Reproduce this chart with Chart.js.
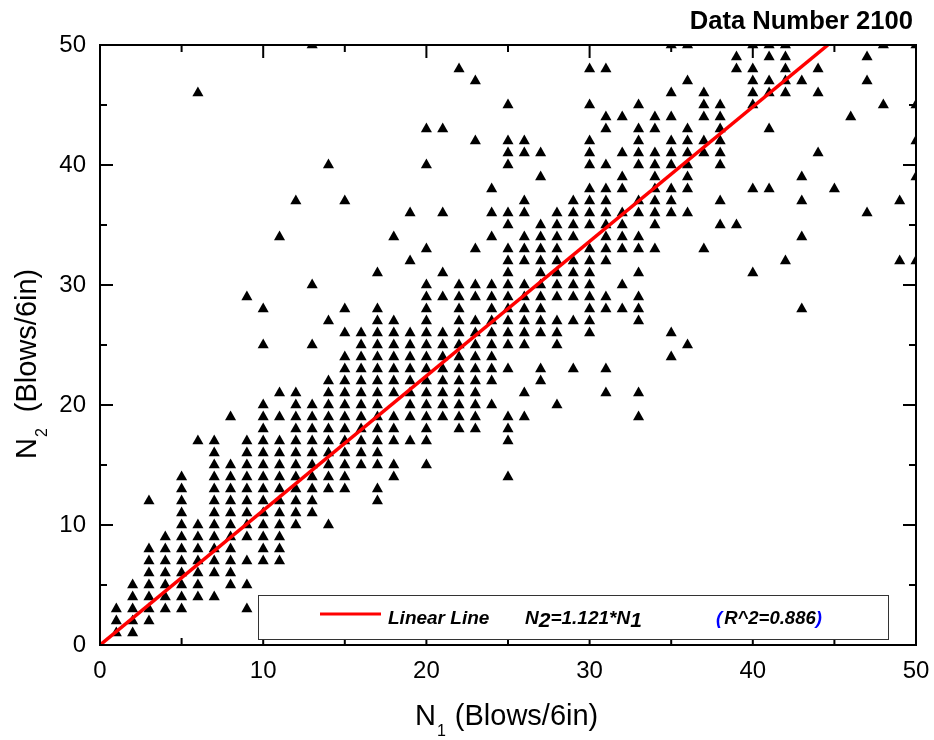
<!DOCTYPE html>
<html>
<head>
<meta charset="utf-8">
<title>Data Number 2100</title>
<style>
  html, body { margin: 0; padding: 0; background: #fff; }
  canvas { display: block; }
</style>
<script src="https://cdn.jsdelivr.net/npm/chart.js@4/dist/chart.umd.min.js"></script>
</head>
<body>
<canvas id="chart" width="934" height="740"></canvas>
<script>
'use strict';

// N2 levels and, aligned with them, the N1 values that have a point at that level
const n2Levels = [
  1, 2, 3, 4, 5, 6, 7, 8, 9, 10,
  11, 12, 13, 14, 15, 16, 17, 18, 19, 20,
  21, 22, 23, 24, 25, 26, 27, 28, 29, 30,
  31, 32, 33, 34, 35, 36, 37, 38, 39, 40,
  41, 42, 43, 44, 45, 46, 47, 48, 49, 50
];
const n1AtLevel = [
  [1, 2],
  [1, 2, 3],
  [1, 2, 3, 4, 5, 9],
  [2, 3, 4, 5, 6, 7],
  [2, 3, 4, 5, 6, 8, 9],
  [3, 4, 5, 6, 7, 8],
  [3, 4, 5, 6, 7, 8, 9, 10, 11],
  [3, 4, 5, 6, 7, 8, 10, 11],
  [4, 5, 6, 7, 8, 9, 10, 11],
  [5, 6, 7, 8, 9, 10, 11, 12, 14],
  [5, 7, 8, 9, 10, 11, 12, 13],
  [3, 5, 7, 8, 9, 10, 11, 12, 13, 17],
  [5, 7, 8, 9, 10, 11, 12, 13, 14, 15, 17],
  [5, 7, 8, 9, 10, 11, 12, 13, 14, 15, 18, 25],
  [7, 8, 9, 10, 11, 12, 13, 14, 15, 16, 17, 18, 20],
  [7, 9, 10, 11, 12, 13, 14, 15, 16, 17],
  [6, 7, 9, 10, 11, 12, 13, 14, 15, 16, 17, 18, 19, 20, 25],
  [10, 12, 13, 14, 15, 16, 17, 18, 20, 22, 23, 25],
  [8, 10, 11, 12, 13, 14, 15, 16, 17, 18, 19, 20, 21, 22, 23, 25, 26, 33],
  [10, 12, 13, 14, 15, 16, 17, 19, 20, 21, 22, 23, 24, 28],
  [11, 12, 14, 15, 16, 17, 18, 19, 20, 21, 22, 23, 26, 31, 33],
  [14, 15, 16, 17, 18, 19, 20, 21, 22, 23, 24, 27],
  [15, 16, 17, 18, 19, 20, 21, 22, 23, 24, 25, 27, 29, 31],
  [15, 16, 17, 18, 19, 20, 21, 22, 23, 24, 35],
  [10, 13, 16, 17, 18, 19, 20, 21, 22, 23, 24, 25, 26, 28, 36],
  [15, 16, 17, 18, 19, 20, 21, 22, 23, 24, 25, 26, 27, 28, 30, 35],
  [14, 17, 18, 20, 22, 23, 24, 25, 26, 27, 28, 29, 30, 33],
  [10, 15, 17, 20, 22, 24, 25, 26, 27, 30, 31, 32, 33, 43],
  [9, 20, 21, 22, 23, 24, 25, 26, 27, 28, 29, 30, 31, 33],
  [13, 20, 22, 23, 24, 25, 26, 27, 28, 29, 30, 32],
  [17, 21, 25, 27, 28, 29, 30, 33, 40],
  [19, 25, 26, 27, 28, 29, 30, 31, 42, 49, 50],
  [20, 23, 25, 26, 27, 28, 30, 31, 32, 33, 34, 37],
  [11, 18, 24, 26, 27, 28, 29, 31, 32, 33, 43],
  [25, 27, 28, 29, 30, 31, 32, 34, 38, 39],
  [19, 21, 24, 25, 26, 28, 29, 30, 31, 32, 33, 34, 35, 36, 47],
  [12, 15, 26, 29, 30, 31, 33, 34, 35, 38, 43, 49],
  [24, 30, 31, 32, 34, 35, 36, 40, 41, 45],
  [27, 32, 34, 36, 43, 50],
  [14, 20, 25, 30, 31, 33, 34, 35, 36, 38],
  [25, 26, 27, 30, 32, 33, 34, 35, 36, 37, 38, 44],
  [23, 25, 26, 30, 33, 35, 36, 37, 38, 50],
  [20, 21, 31, 33, 34, 36, 38, 41],
  [31, 32, 34, 35, 37, 38, 46],
  [25, 30, 33, 37, 38, 40, 48, 50],
  [6, 35, 37, 40, 41, 42, 44],
  [23, 36, 40, 41, 42, 43, 47],
  [22, 30, 31, 39, 40, 42, 44],
  [39, 41, 42, 47],
  [13, 35, 36, 40, 41, 42, 48, 50]
];

// fitted line N2 = 1.121 * N1, ends at the top of the frame
const fitN1 = [0, 44.6];
const fitN2 = [0, 50];

const axisMin = 0;
const axisMax = 50;
const tickStep = 5;
const labelStep = 10;

const FONT = '"Liberation Sans", Arial, sans-serif';

const points = n2Levels.flatMap((level, i) =>
  n1AtLevel[i].map(n1 => ({ x: n1, y: level }))
);
const fitLine = fitN1.map((x, i) => ({ x: x, y: fitN2[i] }));

// Write a row of text pieces, a piece can be dropped as a subscript
function drawRuns(ctx, runs, x, y) {
  runs.forEach(function (run) {
    ctx.font = run.font;
    ctx.fillStyle = run.color || '#000';
    ctx.fillText(run.text, x, y + (run.drop || 0));
    x += ctx.measureText(run.text).width + (run.gap || 0);
  });
}

// Origin style frame: ticks point inwards on all four sides
const frameTicks = {
  id: 'frameTicks',
  afterDatasetsDraw(chart) {
    const { ctx, chartArea: area, scales } = chart;
    ctx.save();
    ctx.strokeStyle = '#000';
    ctx.lineWidth = 2;
    ctx.strokeRect(area.left, area.top, area.right - area.left, area.bottom - area.top);
    for (let v = axisMin; v <= axisMax; v += tickStep) {
      const len = v % labelStep === 0 ? 13 : 7;
      const px = scales.x.getPixelForValue(v);
      const py = scales.y.getPixelForValue(v);
      ctx.beginPath();
      ctx.moveTo(px, area.bottom);
      ctx.lineTo(px, area.bottom - len);
      ctx.moveTo(px, area.top);
      ctx.lineTo(px, area.top + len);
      ctx.moveTo(area.left, py);
      ctx.lineTo(area.left + len, py);
      ctx.moveTo(area.right, py);
      ctx.lineTo(area.right - len, py);
      ctx.stroke();
    }
    ctx.restore();
  },
  afterDraw(chart) {
    const ctx = chart.ctx;
    const big = '29px ' + FONT;
    const small = '16px ' + FONT;
    const note = 'italic bold 19px ' + FONT;
    const noteSub = 'italic bold 21px ' + FONT;
    const noteR = 'italic bold 18.5px ' + FONT;
    ctx.save();
    ctx.textBaseline = 'alphabetic';
    ctx.textAlign = 'left';

    // chart title
    ctx.font = 'bold 25.6px ' + FONT;
    ctx.fillStyle = '#000';
    ctx.textAlign = 'right';
    ctx.fillText('Data Number 2100', 913, 29);
    ctx.textAlign = 'left';

    // axis titles
    drawRuns(ctx, [
      { text: 'N', font: big, gap: 1 },
      { text: '1', font: small, drop: 11, gap: 9 },
      { text: '(Blows/6in)', font: big }
    ], 415, 725);
    ctx.save();
    ctx.translate(36, 459);
    ctx.rotate(-Math.PI / 2);
    drawRuns(ctx, [
      { text: 'N', font: big, gap: 1 },
      { text: '2', font: small, drop: 11, gap: 16 },
      { text: '(Blows/6in)', font: big }
    ], 0, 0);
    ctx.restore();

    // legend box
    ctx.fillStyle = '#fff';
    ctx.fillRect(258, 595, 631, 45);
    ctx.strokeStyle = '#333';
    ctx.lineWidth = 1;
    ctx.strokeRect(258.5, 595.5, 630, 44);
    ctx.strokeStyle = '#f00';
    ctx.lineWidth = 3;
    ctx.beginPath();
    ctx.moveTo(320, 614);
    ctx.lineTo(381, 614);
    ctx.stroke();
    drawRuns(ctx, [{ text: 'Linear Line', font: note }], 388, 624);
    drawRuns(ctx, [
      { text: 'N', font: note },
      { text: '2', font: noteSub, drop: 3 },
      { text: '=1.121*N', font: note },
      { text: '1', font: noteSub, drop: 3 }
    ], 525, 624);
    drawRuns(ctx, [
      { text: '(', font: noteR, color: '#00f', gap: 2 },
      { text: 'R^2=0.886', font: noteR },
      { text: ')', font: noteR, color: '#00f' }
    ], 716, 624);
    ctx.restore();
  }
};

const ctx = document.getElementById('chart').getContext('2d');
new Chart(ctx, {
  type: 'scatter',
  data: {
    datasets: [
      {
        label: 'Linear Line',
        data: fitLine,
        showLine: true,
        borderColor: '#f00',
        borderWidth: 3.5,
        pointRadius: 0
      },
      {
        label: 'N2',
        data: points,
        pointStyle: 'triangle',
        pointRadius: 6.4,
        pointBorderWidth: 0,
        pointBackgroundColor: '#000'
      }
    ]
  },
  options: {
    responsive: false,
    animation: false,
    layout: { padding: { left: 0, right: 18, top: 45, bottom: 0 } },
    plugins: {
      legend: { display: false },
      tooltip: { enabled: false },
      title: { display: false }
    },
    scales: {
      x: {
        type: 'linear',
        min: axisMin,
        max: axisMax,
        afterFit(scale) {
          scale.height = 95;
          scale.paddingLeft = 0;
          scale.paddingRight = 0;
        },
        grid: { display: false, drawTicks: false },
        border: { display: false },
        ticks: {
          stepSize: tickStep,
          padding: 12,
          maxRotation: 0,
          autoSkip: false,
          color: '#000',
          font: { family: FONT, size: 24 },
          callback: function (value) { return value % labelStep === 0 ? value : ''; }
        }
      },
      y: {
        type: 'linear',
        min: axisMin,
        max: axisMax,
        afterFit(scale) {
          scale.width = 100;
          scale.paddingTop = 0;
          scale.paddingBottom = 0;
        },
        grid: { display: false, drawTicks: false },
        border: { display: false },
        ticks: {
          stepSize: tickStep,
          padding: 14,
          autoSkip: false,
          color: '#000',
          font: { family: FONT, size: 24 },
          callback: function (value) { return value % labelStep === 0 ? value : ''; }
        }
      }
    }
  },
  plugins: [frameTicks]
});
</script>
</body>
</html>
